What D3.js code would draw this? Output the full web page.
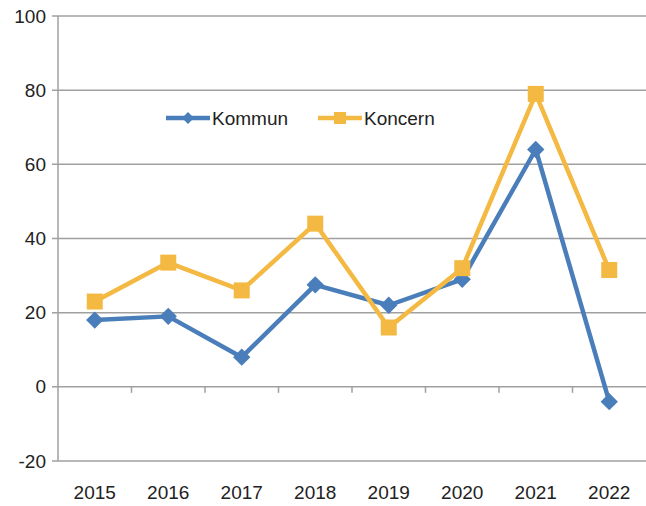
<!DOCTYPE html>
<html><head><meta charset="utf-8">
<script src="https://cdn.jsdelivr.net/npm/d3@7"></script>
<style>body{margin:0;background:#fff}svg{display:block}</style>
</head><body>
<svg id="c" width="646" height="506"></svg>
<script>
const years = ["2015","2016","2017","2018","2019","2020","2021","2022"];
const kommun = [18, 19, 8, 27.5, 22, 29, 64, -4];
const koncern = [23, 33.5, 26, 44, 16, 32, 79, 31.5];
const yTicks = [-20, 0, 20, 40, 60, 80, 100];
const seriesNames = ["Kommun", "Koncern"];

(function () {
const svg = d3.select("#c");
const font = "'Liberation Sans Narrow','Liberation Sans',Arial,sans-serif";
const pL = 58, pR = 646, pT = 16, pB = 461;
const x = d3.scaleBand().domain(years).range([pL, pR]);
const y = d3.scaleLinear().domain([-20, 100]).range([pB, pT]);

// grid
svg.append("g").selectAll("line").data(yTicks).join("line")
  .attr("x1", pL - 6).attr("x2", pR)
  .attr("y1", d => y(d)).attr("y2", d => y(d))
  .attr("stroke", "#a0a0a0").attr("stroke-width", 1.5);
// y axis line
svg.append("line").attr("x1", pL).attr("x2", pL).attr("y1", pT).attr("y2", pB)
  .attr("stroke", "#a0a0a0").attr("stroke-width", 1.5);
// y labels
svg.append("g").selectAll("text").data(yTicks).join("text")
  .attr("x", 46).attr("y", d => y(d)).attr("dy", "0.35em")
  .attr("text-anchor", "end").attr("font-family", font).attr("font-size", 19)
  .attr("fill", "#222").text(d => d);
// x axis ticks at band boundaries on zero line
const bounds = years.slice(1).map(d => x(d));
svg.append("g").selectAll("line").data(bounds).join("line")
  .attr("x1", d => d).attr("x2", d => d)
  .attr("y1", y(0)).attr("y2", y(0) + 6)
  .attr("stroke", "#a0a0a0").attr("stroke-width", 1.5);
// x labels
svg.append("g").selectAll("text").data(years).join("text")
  .attr("x", d => x(d) + x.bandwidth() / 2).attr("y", 499)
  .attr("text-anchor", "middle").attr("font-family", font).attr("font-size", 19)
  .attr("fill", "#222").text(d => d);

const blue = "#4a7ebb", gold = "#f4b942";
const line = d3.line().x((d, i) => x(years[i]) + x.bandwidth() / 2).y(d => y(d));

svg.append("path").datum(kommun).attr("d", line).attr("fill", "none")
  .attr("stroke", blue).attr("stroke-width", 4.5).attr("stroke-linejoin", "round");
svg.append("path").datum(koncern).attr("d", line).attr("fill", "none")
  .attr("stroke", gold).attr("stroke-width", 4.5).attr("stroke-linejoin", "round");

svg.append("g").selectAll("path").data(kommun).join("path")
  .attr("transform", (d, i) => `translate(${x(years[i]) + x.bandwidth() / 2},${y(d)}) rotate(45)`)
  .attr("d", d3.symbol().type(d3.symbolSquare).size(150)).attr("fill", blue);
svg.append("g").selectAll("rect").data(koncern).join("rect")
  .attr("x", (d, i) => x(years[i]) + x.bandwidth() / 2 - 8)
  .attr("y", d => y(d) - 8).attr("width", 16).attr("height", 16).attr("fill", gold);

// legend
const lg = svg.append("g");
const items = [{n: seriesNames[0], c: blue, x0: 166, t: "d"}, {n: seriesNames[1], c: gold, x0: 318, t: "s"}];
items.forEach(it => {
  const cy = 118;
  lg.append("line").attr("x1", it.x0).attr("x2", it.x0 + 44).attr("y1", cy).attr("y2", cy)
    .attr("stroke", it.c).attr("stroke-width", 4.5);
  if (it.t === "d") {
    lg.append("path").attr("transform", `translate(${it.x0 + 22},${cy}) rotate(45)`)
      .attr("d", d3.symbol().type(d3.symbolSquare).size(70)).attr("fill", it.c);
  } else {
    lg.append("rect").attr("x", it.x0 + 16).attr("y", cy - 6).attr("width", 12).attr("height", 12).attr("fill", it.c);
  }
  lg.append("text").attr("x", it.x0 + 46).attr("y", cy).attr("dy", "0.35em")
    .attr("font-family", font).attr("font-size", 19).attr("fill", "#222").text(it.n);
});
})();
</script>
</body></html>
